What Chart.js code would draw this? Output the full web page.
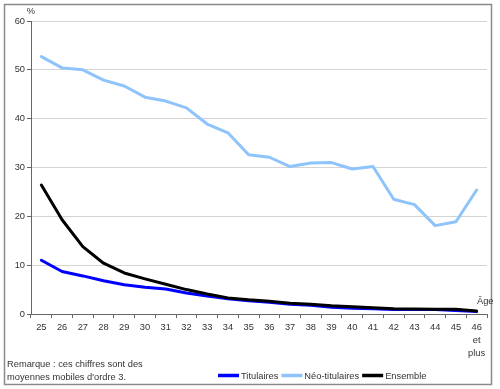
<!DOCTYPE html>
<html>
<head>
<meta charset="utf-8">
<script src="https://cdn.jsdelivr.net/npm/chart.js@4"></script>
<style>
    html, body { margin: 0; padding: 0; background: #fff; }
    #wrap { width: 500px; height: 389px; }
</style>
</head>
<body>
<div id="wrap"><canvas id="ageChart" width="500" height="389"></canvas></div>
<script>
// catégories (âge)
const ages = ['25', '26', '27', '28', '29', '30', '31', '32', '33', '34', '35',
    '36', '37', '38', '39', '40', '41', '42', '43', '44', '45', ['46', 'et', 'plus']];

// valeurs en %
const titulaires = [11.0, 8.7, 7.8, 6.8, 6.0, 5.5, 5.1, 4.3, 3.7, 3.1, 2.7,
    2.4, 2.0, 1.8, 1.4, 1.2, 1.1, 0.9, 0.9, 0.9, 0.7, 0.5];
const neoTitulaires = [52.7, 50.4, 50.0, 47.9, 46.7, 44.4, 43.6, 42.2, 38.9, 37.1, 32.6,
    32.1, 30.2, 30.9, 31.0, 29.7, 30.2, 23.5, 22.4, 18.1, 18.9, 25.4];
const ensemble = [26.4, 19.3, 13.8, 10.4, 8.4, 7.2, 6.1, 5.0, 4.1, 3.3, 2.9,
    2.6, 2.2, 2.0, 1.7, 1.5, 1.3, 1.1, 1.0, 0.95, 0.95, 0.6];

const seriesLabels = ['Titulaires', 'Néo-titulaires', 'Ensemble'];
const yTicks = [0, 10, 20, 30, 40, 50, 60];

const fontFamily = '"Liberation Sans", Arial, sans-serif';
const fontSize = 9.3;
const textColor = '#333';

// cadre, unités, remarque et légende
const extras = {
    id: 'extras',
    afterDraw(chart) {
        const c = chart.ctx;
        c.save();
        c.strokeStyle = '#8a8a8a';
        c.lineWidth = 1.5;
        c.strokeRect(4.5, 4.5, 487, 380);

        c.font = fontSize + 'px ' + fontFamily;
        c.fillStyle = textColor;
        c.textBaseline = 'middle';
        c.textAlign = 'center';
        c.fillText('%', 31, 11);
        c.textAlign = 'left';
        c.fillText('Âge', 477, 301);
        c.fillText('Remarque : ces chiffres sont des', 7, 364);
        c.fillText("moyennes mobiles d'ordre 3.", 7, 377);

        // légende
        let x = 218;
        chart.data.datasets.forEach((ds) => {
            c.strokeStyle = ds.borderColor;
            c.lineWidth = 3.5;
            c.beginPath();
            c.moveTo(x, 375.5);
            c.lineTo(x + 21, 375.5);
            c.stroke();
            x += 23;
            c.fillStyle = textColor;
            c.fillText(ds.label, x, 376);
            x += c.measureText(ds.label).width + 3;
        });
        c.restore();
    }
};

const ctx = document.getElementById('ageChart');

new Chart(ctx, {
    type: 'line',
    data: {
        labels: ages,
        datasets: [
            { label: seriesLabels[0], data: titulaires, borderColor: '#0000ff', order: 2 },
            { label: seriesLabels[1], data: neoTitulaires, borderColor: '#8ec4fb', order: 1 },
            { label: seriesLabels[2], data: ensemble, borderColor: '#000000', order: 0 }
        ]
    },
    options: {
        responsive: false,
        animation: false,
        layout: { padding: { left: 0, top: 21, right: 13, bottom: 25 } },
        elements: {
            line: { borderWidth: 3, tension: 0, borderCapStyle: 'round', borderJoinStyle: 'round' },
            point: { radius: 0, hoverRadius: 0 }
        },
        plugins: {
            legend: { display: false },
            tooltip: { enabled: false }
        },
        scales: {
            x: {
                offset: true,
                grid: { offset: true, drawOnChartArea: false, tickLength: 4, color: '#666' },
                border: { color: '#666', width: 1 },
                ticks: {
                    autoSkip: false, maxRotation: 0, padding: 3, color: textColor,
                    font: { family: fontFamily, size: fontSize, lineHeight: 1.4 }
                },
                afterFit(scale) { scale.height = 50; }
            },
            y: {
                min: 0,
                max: 60,
                afterBuildTicks(scale) { scale.ticks = yTicks.map(v => ({ value: v })); },
                grid: {
                    tickLength: 4,
                    tickColor: '#666',
                    color: (c) => c.tick && c.tick.value === 0 ? 'rgba(0,0,0,0)' : '#d4d4d4'
                },
                border: { color: '#666', width: 1 },
                ticks: {
                    padding: 2, color: textColor,
                    font: { family: fontFamily, size: fontSize }
                },
                afterFit(scale) { scale.width = 31; }
            }
        }
    },
    plugins: [extras]
});
</script>
</body>
</html>
